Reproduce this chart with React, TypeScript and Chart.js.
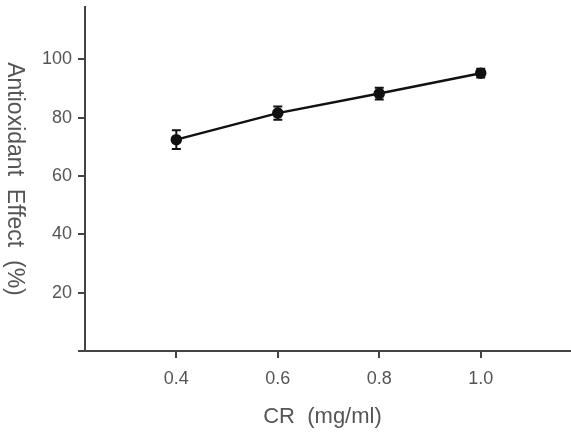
import { useEffect, useRef } from "react";
import { Chart, registerables } from "chart.js";

Chart.register(...registerables);

// CR concentration (mg/ml) and measured antioxidant effect (%), mean ± error
const concentrations = [0.4, 0.6, 0.8, 1.0];
const effectMeans = [72.5, 81.6, 88.3, 95.3];
const effectErrors = [3.2, 2.3, 2.0, 1.5];

const xTickValues = [0.4, 0.6, 0.8, 1.0];
const yTickValues = [0, 20, 40, 60, 80, 100];

const xTitle = "CR  (mg/ml)";
const yTitle = "Antioxidant  Effect  (%)";

const FONT = "'Liberation Sans', Arial, sans-serif";
const TEXT_COLOR = "#555";
const AXIS_COLOR = "#444";

// Vertical error bars with caps, drawn from the mean/error arrays
const errorBarPlugin = {
  id: "errorBars",
  afterDatasetsDraw(chart: any) {
    const { ctx, scales } = chart;
    const x = scales.x;
    const y = scales.y;
    ctx.save();
    ctx.strokeStyle = "#111";
    ctx.lineWidth = 2;
    const cap = 4.5;
    concentrations.forEach((c, i) => {
      const px = x.getPixelForValue(c);
      const top = y.getPixelForValue(effectMeans[i] + effectErrors[i]);
      const bottom = y.getPixelForValue(effectMeans[i] - effectErrors[i]);
      ctx.beginPath();
      ctx.moveTo(px, top);
      ctx.lineTo(px, bottom);
      ctx.moveTo(px - cap, top);
      ctx.lineTo(px + cap, top);
      ctx.moveTo(px - cap, bottom);
      ctx.lineTo(px + cap, bottom);
      ctx.stroke();
    });
    ctx.restore();
  },
};

// Axis titles: x centred under the plot, y rotated clockwise
const axisTitlePlugin = {
  id: "axisTitles",
  afterDraw(chart: any) {
    const { ctx, chartArea } = chart;
    ctx.save();
    ctx.fillStyle = TEXT_COLOR;
    ctx.textAlign = "center";
    ctx.textBaseline = "middle";
    ctx.font = `22px ${FONT}`;
    ctx.fillText(xTitle, (chartArea.left + chartArea.right) / 2 - 5, chartArea.bottom + 66);
    ctx.font = `23px ${FONT}`;
    ctx.translate(14, (chartArea.top + chartArea.bottom) / 2);
    ctx.rotate(Math.PI / 2);
    ctx.fillText(yTitle, 0, 0);
    ctx.restore();
  },
};

// Drop the automatic label overhang padding so the plot box is set by the layout padding
function clearPadding(scale: any) {
  scale.paddingTop = 0;
  scale.paddingBottom = 0;
  scale.paddingLeft = 0;
  scale.paddingRight = 0;
}

export default function App() {
  const canvasRef = useRef<HTMLCanvasElement | null>(null);

  useEffect(() => {
    const canvas = canvasRef.current;
    if (!canvas) return;
    const chart = new Chart(canvas, {
      type: "line",
      data: {
        datasets: [
          {
            data: concentrations.map((c, i) => ({ x: c, y: effectMeans[i] })),
            borderColor: "#111",
            backgroundColor: "#111",
            borderWidth: 2.5,
            pointRadius: 4.5,
            pointBackgroundColor: "#111",
            pointBorderColor: "#111",
            tension: 0,
          },
        ],
      },
      options: {
        responsive: false,
        animation: false,
        layout: { autoPadding: false, padding: { top: 7, right: 1, left: 0, bottom: 0 } },
        plugins: {
          legend: { display: false },
          tooltip: { enabled: false },
        },
        scales: {
          x: {
            type: "linear",
            min: 0.22,
            max: 1.176,
            afterFit(scale: any) {
              scale.height = 92;
              clearPadding(scale);
            },
            afterBuildTicks(scale: any) {
              scale.ticks = xTickValues.map((v) => ({ value: v }));
            },
            ticks: {
              color: TEXT_COLOR,
              font: { family: FONT, size: 18 },
              padding: 10,
              maxRotation: 0,
              callback: (v: any) => Number(v).toFixed(1),
            },
            grid: {
              drawOnChartArea: false,
              drawTicks: true,
              tickLength: 7,
              color: AXIS_COLOR,
              lineWidth: 2,
            },
            border: { display: true, color: AXIS_COLOR, width: 2 },
          },
          y: {
            type: "linear",
            min: 0,
            max: 118,
            afterFit(scale: any) {
              scale.width = 85;
              clearPadding(scale);
            },
            afterBuildTicks(scale: any) {
              scale.ticks = yTickValues.map((v) => ({ value: v }));
            },
            ticks: {
              color: TEXT_COLOR,
              font: { family: FONT, size: 18 },
              padding: 6,
              callback: (v: any) => (Number(v) === 0 ? "" : String(v)),
            },
            grid: {
              drawOnChartArea: false,
              drawTicks: true,
              tickLength: 7,
              color: AXIS_COLOR,
              lineWidth: 2,
            },
            border: { display: true, color: AXIS_COLOR, width: 2 },
          },
        },
      },
      plugins: [errorBarPlugin, axisTitlePlugin],
    });
    return () => chart.destroy();
  }, []);

  return (
    <div style={{ position: "fixed", left: 0, top: 0, width: 571, height: 443, background: "#fff" }}>
      <canvas ref={canvasRef} width={571} height={443} />
    </div>
  );
}
